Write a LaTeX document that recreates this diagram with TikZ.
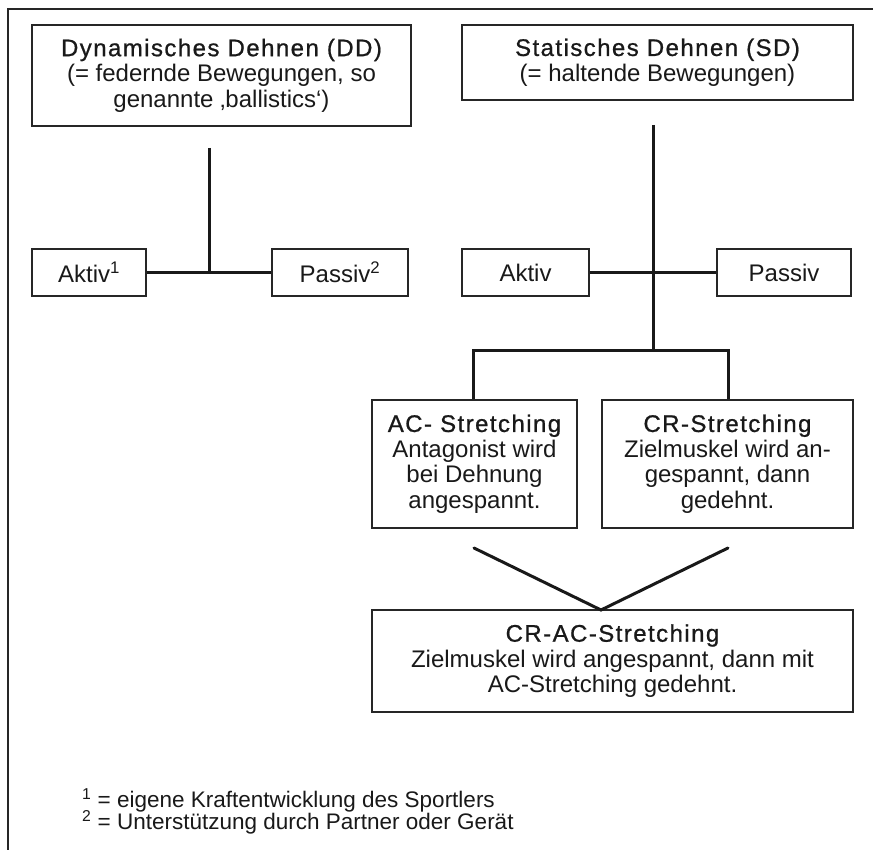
\documentclass[tikz,border=0pt]{standalone}
\usepackage{fontspec}
\setmainfont{Liberation Sans}
\newfontfamily\titlefont[LetterSpace=6,FakeBold=0.8]{Liberation Sans}
\begin{document}
\begin{tikzpicture}[x=1pt,y=-1pt,
  box/.style={draw=black!85, line width=1.5pt, inner sep=0pt, align=center,
    font=\fontsize{24}{25.5}\selectfont, text=black!90},
  conn/.style={line width=3pt, black!90},
  frameline/.style={line width=1.5pt, black!85},
  note/.style={anchor=base west, inner sep=0pt, font=\fontsize{22.5}{23}\selectfont, text=black!90}]
\useasboundingbox (0,0) rectangle (873,850);
\fill[white] (0,0) rectangle (873,850);
\draw[frameline] (8,850) -- (8,9) -- (873,9);

% top boxes
\node[box, minimum width=379pt, minimum height=101pt] (dd) at (221.5,75.5)
  {{\titlefont Dynamisches Dehnen (DD)}\\(= federnde Bewegungen, so\\genannte ‚ballistics‘)};
\node[box, minimum width=391pt, minimum height=75pt] (sd) at (657.5,62.5)
  {{\titlefont Statisches Dehnen (SD)}\\(= haltende Bewegungen)};

% second row
\node[box, minimum width=114pt, minimum height=47pt] (akt1) at (89,272.5) {Aktiv\textsuperscript{1}};
\node[box, minimum width=136pt, minimum height=47pt] (pas2) at (340,272.5) {Passiv\textsuperscript{2}};
\node[box, minimum width=127pt, minimum height=47pt] (akt) at (525.5,272.5) {Aktiv};
\node[box, minimum width=134pt, minimum height=47pt] (pas) at (784,272.5) {Passiv};

% third row
\node[box, minimum width=205pt, minimum height=128pt] (ac) at (474.5,464)
  {{\titlefont AC- Stretching}\\Antagonist wird\\bei Dehnung\\angespannt.};
\node[box, minimum width=251pt, minimum height=128pt] (cr) at (727.5,464)
  {{\titlefont CR-Stretching}\\Zielmuskel wird an-\\gespannt, dann\\gedehnt.};

% bottom box
\node[box, minimum width=481pt, minimum height=102pt] (crac) at (612.5,661)
  {{\titlefont CR-AC-Stretching}\\Zielmuskel wird angespannt, dann mit\\AC-Stretching gedehnt.};

% junction coordinates
\coordinate (ddtop) at (209,148);
\coordinate (ddj) at (209,273);
\coordinate (sdtop) at (653,125);
\coordinate (sdj) at (653,351);
\coordinate (acj) at (473,351);
\coordinate (crj) at (728,351);
\coordinate (vl) at (474,548);
\coordinate (vr) at (728,548);
\coordinate (vm) at (601,610);

% connectors
\draw[conn] (ddtop) -- (ddj);
\draw[conn] (akt1.east |- ddj) -- (pas2.west |- ddj);
\draw[conn] (sdtop) -- (sdj);
\draw[conn] (akt.east |- ddj) -- (pas.west |- ddj);
\draw[conn, line join=miter] (acj |- ac.north) -- (acj) -- (crj) -- (crj |- cr.north);
\draw[conn, line cap=round] (vl) -- (vm) -- (vr);

% footnotes
\node[note] (fn1) at (82,807) {\textsuperscript{1} = eigene Kraftentwicklung des Sportlers};
\node[note] (fn2) at (82,829) {\textsuperscript{2} = Unterstützung durch Partner oder Gerät};
\end{tikzpicture}
\end{document}
